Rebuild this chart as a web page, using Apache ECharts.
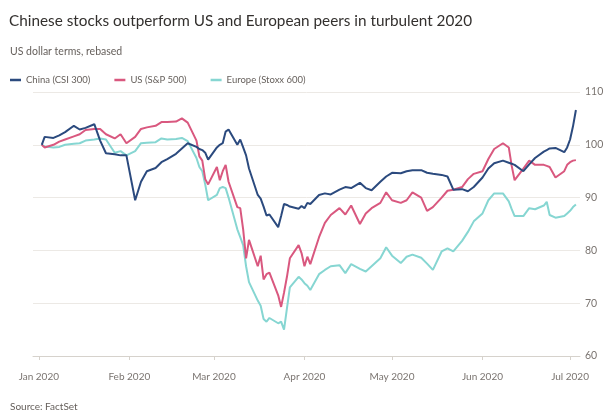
<!DOCTYPE html>
<html>
<head>
<meta charset="utf-8">
<script src="https://cdn.jsdelivr.net/npm/echarts@6/dist/echarts.min.js"></script>
<style>
  html, body { margin: 0; padding: 0; background: #fff; }
  #chart { width: 609px; height: 414px; }
</style>
</head>
<body>
<div id="chart"></div>
<script>
// Trading dates shown on the chart
const dates = [
  '2020-01-02','2020-01-03','2020-01-06','2020-01-08','2020-01-10','2020-01-13','2020-01-15','2020-01-17',
  '2020-01-20','2020-01-22','2020-01-24','2020-01-27','2020-01-29','2020-01-31',
  '2020-02-03','2020-02-05','2020-02-07','2020-02-10','2020-02-12','2020-02-14','2020-02-17','2020-02-19',
  '2020-02-21','2020-02-24','2020-02-25','2020-02-26','2020-02-27','2020-02-28',
  '2020-03-02','2020-03-03','2020-03-04','2020-03-05','2020-03-06','2020-03-09','2020-03-10','2020-03-11',
  '2020-03-12','2020-03-13','2020-03-16','2020-03-17','2020-03-18','2020-03-19','2020-03-20','2020-03-23',
  '2020-03-24','2020-03-25','2020-03-26','2020-03-27','2020-03-30','2020-03-31',
  '2020-04-01','2020-04-02','2020-04-03','2020-04-06','2020-04-08','2020-04-10','2020-04-13','2020-04-15',
  '2020-04-17','2020-04-20','2020-04-22','2020-04-24','2020-04-27','2020-04-29',
  '2020-05-01','2020-05-04','2020-05-06','2020-05-08','2020-05-11','2020-05-13','2020-05-15','2020-05-18',
  '2020-05-20','2020-05-22','2020-05-25','2020-05-27','2020-05-29',
  '2020-06-01','2020-06-03','2020-06-05','2020-06-08','2020-06-10','2020-06-11','2020-06-12','2020-06-15',
  '2020-06-17','2020-06-19','2020-06-22','2020-06-23','2020-06-24','2020-06-26','2020-06-29','2020-06-30',
  '2020-07-01','2020-07-02','2020-07-03'
];

// China (CSI 300), rebased to 100
const china = [
  100, 101.5, 101.3, 101.8, 102.4, 103.6, 102.9, 103.2,
  103.9, 100.8, 98.4, 98.2, 98, 98,
  89.5, 93, 95, 95.6, 96.7, 97.3, 98.3, 99.3,
  100.3, 99.6, 99.2, 99, 98.5, 97.2,
  99.5, 100, 100.3, 102.5, 102.9, 100, 101, 99.5,
  98, 95.5, 90.5, 89.8, 88.3, 86.6, 86.8, 84.4,
  86.5, 88.8, 88.6, 88.3, 87.9, 88.4,
  88, 89, 88.8, 90.5, 90.8, 90.6, 91.5, 92,
  91.8, 92.8, 91.8, 91.4, 93, 94,
  94.7, 94.6, 95, 95.2, 95.2, 94.7, 94.5, 94.3,
  94, 91.5, 91.6, 91.2, 92,
  93.8, 95.5, 96.5, 97, 96.6, 96.4, 96.2, 95,
  96.3, 97.5, 98.7, 99, 99.3, 99.4, 98.6, 99.5,
  101, 103.5, 106.6
];

// US (S&P 500), rebased to 100
const us = [
  100, 99.5, 100, 100.6, 101, 101.6, 102, 102.8,
  103, 103, 102, 101.2, 102, 100.3,
  101.5, 103, 103.3, 103.6, 104.3, 104.3, 104.4, 105,
  104.2, 100.8, 97.8, 97, 93.5, 92.5,
  95.8, 93.3, 95, 96.2, 93, 88.2, 88, 84,
  78.5, 82, 77, 79, 74.5, 75.5, 75.8, 71.5,
  69.3, 72, 75, 78.5, 81, 79.5,
  77, 78.8, 77.4, 82.5, 85.2, 86.7, 88, 86.8,
  88.5, 85, 87, 88, 89, 91,
  89.5, 89, 89.5, 91, 90, 87.5, 88.2, 90,
  91.3, 91.5, 92, 93.5, 94.5,
  95, 97.3, 99.2, 100.3, 99.5, 96, 93.3, 95.5,
  97, 96.2, 96.2, 96, 95.8, 93.8, 95, 96.2,
  96.7, 97, 97.1
];

// Europe (Stoxx 600), rebased to 100
const europe = [
  100, 99.7, 99.5, 99.6, 100, 100.2, 100.3, 100.8,
  101, 101.2, 101, 98.5, 98.8, 98,
  98.8, 100.3, 100.4, 100.5, 101.2, 101, 101.1, 101.3,
  100.7, 97.5, 95.8, 95, 92.5, 89.5,
  90.5, 91.8, 92, 91.8, 90, 84, 82.5, 81,
  77, 74, 70.5, 69.5, 67, 66.5, 67.2, 66.2,
  66.5, 65, 69, 73, 75, 74.5,
  73.8, 73.3, 72.5, 75.5, 76.3, 77, 77.2, 75.7,
  77.4, 76.5, 76, 77, 78.5, 80.6,
  79, 77.6, 78.8, 79.2, 78.6, 77.5, 76.3, 79.8,
  80.4, 79.8, 81.8, 83.5, 85.5,
  87, 89.5, 90.8, 90.8, 89.3, 87.8, 86.5, 86.5,
  88, 87.8, 88.5, 89.2, 86.7, 86.2, 86.5, 87,
  87.5, 88.2, 88.7
];

// Month ticks along the date axis
const tickDates = ['2020-01-01','2020-02-01','2020-03-01','2020-04-01','2020-05-01','2020-06-01','2020-07-01'];
const tickLabels = ['Jan 2020','Feb 2020','Mar 2020','Apr 2020','May 2020','Jun 2020','Jul 2020'];

const seriesNames = ['China (CSI 300)', 'US (S&P 500)', 'Europe (Stoxx 600)'];
const seriesColors = ['#2b4a7e', '#d9587f', '#86d6d2'];

// Dates become day numbers counted from 1 Jan 2020 (UTC, so no DST shifts)
const DAY = 86400000;
const ORIGIN = Date.UTC(2020, 0, 1);
function dayNum(s) {
  const p = s.split('-').map(Number);
  return (Date.UTC(p[0], p[1] - 1, p[2]) - ORIGIN) / DAY;
}
const tickDays = tickDates.map(dayNum);

function pairs(values) {
  return dates.map((d, i) => [dayNum(d), values[i]]);
}

const FONT = 'Lato, "Noto Sans", sans-serif';

const chart = echarts.init(document.getElementById('chart'), null, { renderer: 'canvas' });
chart.setOption({
  animation: false,
  backgroundColor: '#ffffff',
  textStyle: { fontFamily: FONT },
  title: [
    {
      text: 'Chinese stocks outperform US and European peers in turbulent 2020',
      left: 9, top: 14, padding: 0,
      textStyle: { fontFamily: FONT, fontSize: 15.3, fontWeight: 'normal', color: '#33302e' }
    },
    {
      text: 'US dollar terms, rebased',
      left: 10, top: 46, padding: 0,
      textStyle: { fontFamily: FONT, fontSize: 10.5, fontWeight: 'normal', color: '#66605c' }
    },
    {
      text: 'Source: FactSet',
      left: 10, top: 402, padding: 0,
      textStyle: { fontFamily: FONT, fontSize: 10, fontWeight: 'normal', color: '#66605c' }
    }
  ],
  legend: {
    left: 10, top: 75, padding: 0,
    itemWidth: 11, itemHeight: 2.5, itemGap: 24,
    icon: 'rect',
    data: seriesNames,
    textStyle: { fontFamily: FONT, fontSize: 9.5, color: '#66605c' }
  },
  grid: { left: 33, right: 29, top: 92, bottom: 58 },
  xAxis: {
    type: 'value',
    min: -2,
    max: 185.4,
    axisLine: { show: true, lineStyle: { color: '#d6d2cc', width: 1 } },
    axisTick: { show: true, customValues: tickDays, length: 4, lineStyle: { color: '#d6d2cc' } },
    axisLabel: {
      customValues: tickDays,
      formatter: function (v) {
        const i = tickDays.indexOf(v);
        return i >= 0 ? tickLabels[i] : '';
      },
      fontFamily: FONT, fontSize: 10, color: '#7a7470', margin: 16
    },
    splitLine: { show: false }
  },
  yAxis: {
    type: 'value',
    position: 'right',
    min: 60, max: 110, interval: 10,
    axisLine: { show: false },
    axisTick: { show: false },
    axisLabel: { fontFamily: FONT, fontSize: 10.5, color: '#7a7470', margin: 5 },
    splitLine: { lineStyle: { color: '#ece9e5', width: 1 } }
  },
  series: [
    {
      name: seriesNames[2], type: 'line', data: pairs(europe), showSymbol: false,
      color: seriesColors[2], lineStyle: { width: 2, color: seriesColors[2] }, z: 2
    },
    {
      name: seriesNames[1], type: 'line', data: pairs(us), showSymbol: false,
      color: seriesColors[1], lineStyle: { width: 2, color: seriesColors[1] }, z: 3
    },
    {
      name: seriesNames[0], type: 'line', data: pairs(china), showSymbol: false,
      color: seriesColors[0], lineStyle: { width: 2, color: seriesColors[0] }, z: 4
    }
  ]
});
</script>
</body>
</html>
